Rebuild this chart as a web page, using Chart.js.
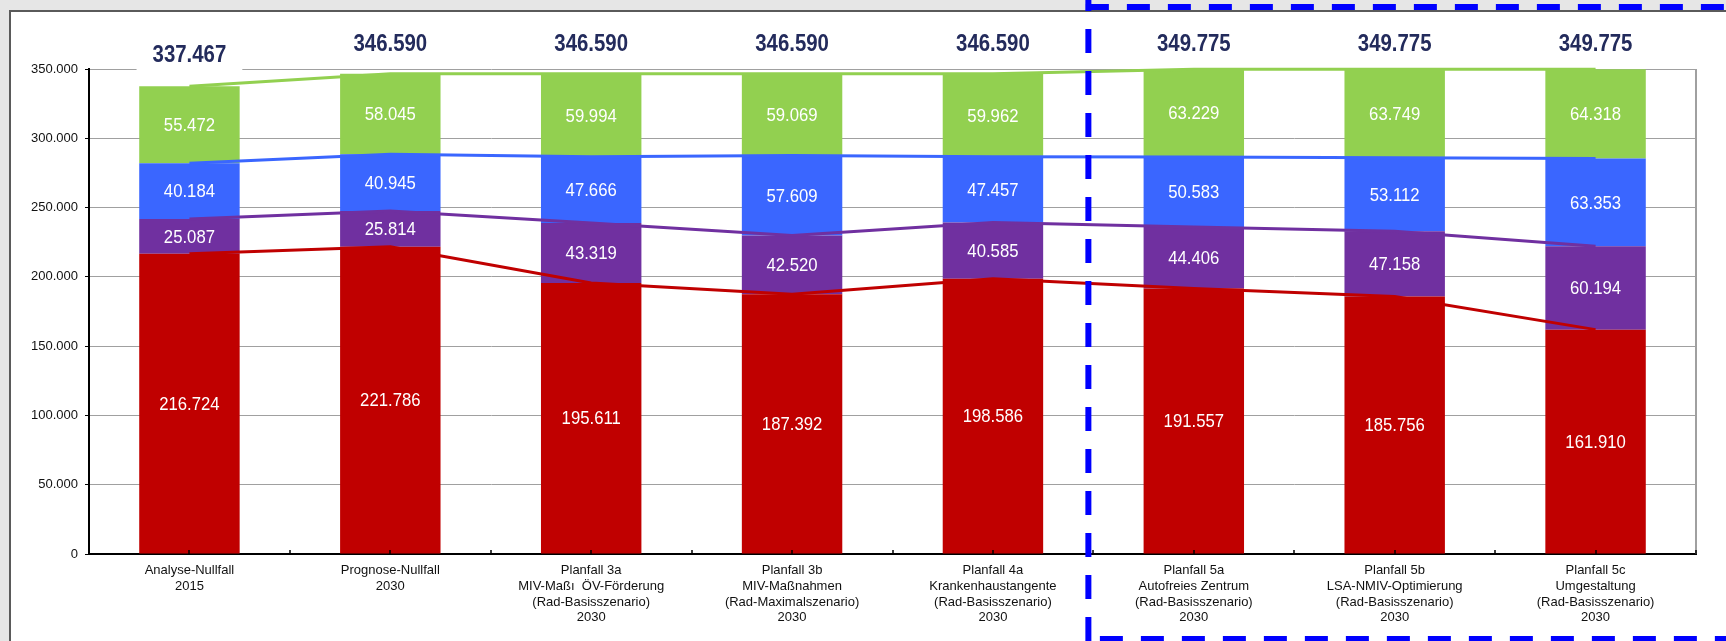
<!DOCTYPE html>
<html lang="de">
<head>
<meta charset="UTF-8" />
<title>Verkehrsaufkommen Planfälle</title>
<script src="https://cdn.jsdelivr.net/npm/chart.js"></script>
<style>
  html, body { margin: 0; padding: 0; background: #e6e6e6; }
  canvas { display: block; }
</style>
</head>
<body>
<canvas id="chart" width="1726" height="641"></canvas>
<script>
// Kategorien (mehrzeilige Achsenbeschriftung)
const categories = [
  ["Analyse-Nullfall", "2015"],
  ["Prognose-Nullfall", "2030"],
  ["Planfall 3a", "MIV-Maßı  ÖV-Förderung", "(Rad-Basisszenario)", "2030"],
  ["Planfall 3b", "MIV-Maßnahmen", "(Rad-Maximalszenario)", "2030"],
  ["Planfall 4a", "Krankenhaustangente", "(Rad-Basisszenario)", "2030"],
  ["Planfall 5a", "Autofreies Zentrum", "(Rad-Basisszenario)", "2030"],
  ["Planfall 5b", "LSA-NMIV-Optimierung", "(Rad-Basisszenario)", "2030"],
  ["Planfall 5c", "Umgestaltung", "(Rad-Basisszenario)", "2030"]
];

// Werte je Segment (von unten nach oben)
const rot   = [216724, 221786, 195611, 187392, 198586, 191557, 185756, 161910];
const lila  = [25087, 25814, 43319, 42520, 40585, 44406, 47158, 60194];
const blau  = [40184, 40945, 47666, 57609, 47457, 50583, 53112, 63353];
const gruen = [55472, 58045, 59994, 59069, 59962, 63229, 63749, 64318];

const yMax = 350000;
const yStep = 50000;

const FONT = '"Liberation Sans", Arial, sans-serif';
const fmt = v => String(v).replace(/\B(?=(\d{3})+(?!\d))/g, ".");

function condensedText(ctx, text, x, y, font, color, sx) {
  ctx.save();
  ctx.font = font;
  ctx.fillStyle = color;
  ctx.textAlign = "center";
  ctx.textBaseline = "middle";
  ctx.translate(x, y);
  ctx.scale(sx, 1);
  ctx.fillText(text, 0, 0);
  ctx.restore();
}

const framePlugin = {
  id: "frame",
  beforeDraw(chart) {
    const ctx = chart.ctx;
    ctx.save();
    ctx.fillStyle = "#e6e6e6";
    ctx.fillRect(0, 0, chart.width, chart.height);
    ctx.fillStyle = "#ffffff";
    ctx.fillRect(10, 11, chart.width, chart.height);
    ctx.strokeStyle = "#5a5a5a";
    ctx.lineWidth = 2;
    ctx.beginPath();
    ctx.moveTo(10, chart.height);
    ctx.lineTo(10, 11);
    ctx.lineTo(chart.width, 11);
    ctx.stroke();
    ctx.restore();
  }
};

const labelPlugin = {
  id: "labels",
  afterDatasetsDraw(chart) {
    const ctx = chart.ctx;
    const area = chart.chartArea;
    const xs = chart.scales.x;

    // rechter Rahmen
    ctx.save();
    ctx.strokeStyle = "#a0a0a0";
    ctx.lineWidth = 2;
    ctx.beginPath();
    ctx.moveTo(area.right, area.top);
    ctx.lineTo(area.right, area.bottom);
    ctx.stroke();

    // Teilstriche der x-Achse (Mitte + Grenzen)
    ctx.strokeStyle = "#000";
    ctx.lineWidth = 1.5;
    ctx.beginPath();
    for (let i = 0; i < categories.length; i++) {
      [i, i + 0.5].forEach(v => {
        const px = Math.round(xs.getPixelForValue(v));
        ctx.moveTo(px, area.bottom);
        ctx.lineTo(px, area.bottom - 4);
      });
    }
    ctx.stroke();
    ctx.restore();

    // Werte in den Segmenten
    for (let d = 0; d < 4; d++) {
      const meta = chart.getDatasetMeta(d);
      const values = chart.data.datasets[d].data;
      meta.data.forEach((bar, i) => {
        const cy = (bar.y + bar.base) / 2 + 1;
        condensedText(ctx, fmt(values[i]), bar.x, cy, "19px " + FONT, "#ffffff", 0.88);
      });
    }

    // Summen über den Säulen
    const top = chart.getDatasetMeta(3);
    top.data.forEach((bar, i) => {
      const total = rot[i] + lila[i] + blau[i] + gruen[i];
      const txt = fmt(total);
      const y = Math.max(bar.y - 31, 44);
      ctx.save();
      ctx.font = "bold 24px " + FONT;
      const w = ctx.measureText(txt).width * 0.85 + 32;
      ctx.fillStyle = "#ffffff";
      ctx.fillRect(bar.x - w / 2, y - 15, w, 31);
      ctx.restore();
      condensedText(ctx, txt, bar.x, y, "bold 24px " + FONT, "#232b5c", 0.85);
    });
  },
  afterDraw(chart) {
    // gestrichelter Rahmen um Planfall 5
    const ctx = chart.ctx;
    const xd = chart.scales.x.getPixelForValue(4.5) - 5;
    ctx.save();
    ctx.strokeStyle = "#0000ff";
    ctx.lineWidth = 6;
    ctx.lineCap = "butt";
    ctx.setLineDash([24, 18]);
    ctx.beginPath();
    ctx.moveTo(xd, -13);
    ctx.lineTo(xd, chart.height);
    ctx.stroke();
    ctx.setLineDash([23, 18]);
    ctx.beginPath();
    ctx.moveTo(xd - 2.5, 7);
    ctx.lineTo(chart.width, 7);
    ctx.stroke();
    ctx.beginPath();
    ctx.moveTo(xd + 11.5, 639);
    ctx.lineTo(chart.width, 639);
    ctx.stroke();
    ctx.restore();
  }
};

const colors = ["#c00000", "#7030a0", "#3a66ff", "#92d050"];
const series = [rot, lila, blau, gruen];
const names = ["Rot", "Lila", "Blau", "Grün"];

const datasets = [];
series.forEach((s, k) => {
  datasets.push({
    type: "bar",
    label: names[k],
    data: s,
    backgroundColor: colors[k],
    borderWidth: 0,
    stack: "bars",
    categoryPercentage: 1,
    barPercentage: 0.5,
    order: 2
  });
});
series.forEach((s, k) => {
  datasets.push({
    type: "line",
    label: names[k] + " Linie",
    data: s,
    borderColor: colors[k],
    borderWidth: 3,
    pointRadius: 0,
    tension: 0,
    fill: false,
    stack: "lines",
    clip: 6,
    order: 1
  });
});

new Chart(document.getElementById("chart"), {
  type: "bar",
  data: { labels: categories, datasets: datasets },
  options: {
    responsive: false,
    animation: false,
    layout: { padding: { left: 0, top: 69, right: 30, bottom: 0 } },
    plugins: {
      legend: { display: false },
      tooltip: { enabled: false }
    },
    scales: {
      x: {
        stacked: true,
        grid: { display: false, drawTicks: false },
        border: { color: "#000", width: 2 },
        ticks: {
          autoSkip: false,
          maxRotation: 0,
          padding: 9,
          color: "#111",
          font: { family: FONT, size: 13, lineHeight: 1.2 }
        },
        afterFit(scale) { scale.height = 87; }
      },
      y: {
        stacked: true,
        min: 0,
        max: yMax,
        grid: { color: "#a0a0a0", lineWidth: 1, tickLength: 4, tickColor: "#000" },
        border: { color: "#000", width: 2 },
        ticks: {
          stepSize: yStep,
          padding: 7,
          color: "#111",
          font: { family: FONT, size: 13 },
          callback: v => fmt(v)
        },
        afterFit(scale) { scale.width = 89; }
      }
    }
  },
  plugins: [framePlugin, labelPlugin]
});
</script>
</body>
</html>
